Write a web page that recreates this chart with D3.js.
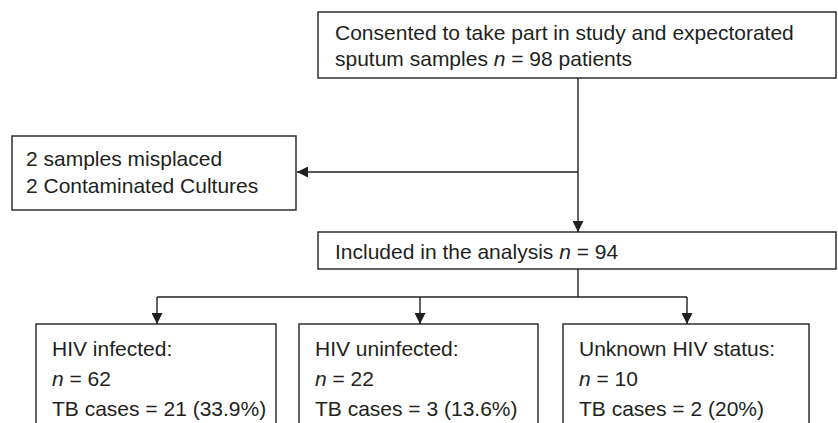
<!DOCTYPE html>
<html>
<head>
<meta charset="utf-8">
<script src="https://cdn.jsdelivr.net/npm/d3@7"></script>
<style>
    body { margin: 0; background: #fff; }
    svg { display: block; }
    .box { fill: #fff; stroke: #231f20; stroke-width: 1.4; }
    .link { fill: none; stroke: #231f20; stroke-width: 1.4; }
    text { font-family: "Liberation Sans", Arial, sans-serif; font-size: 21px; fill: #231f20; }
</style>
</head>
<body>
<script>
// text of each box, "_n_" marks the italic n
var topLines = ["Consented to take part in study and expectorated", "sputum samples _n_ = 98 patients"];
var excludedLines = ["2 samples misplaced", "2 Contaminated Cultures"];
var includedLines = ["Included in the analysis _n_ = 94"];
var groupNames = ["HIV infected:", "HIV uninfected:", "Unknown HIV status:"];
var groupN = [62, 22, 10];
var groupTB = ["21 (33.9%)", "3 (13.6%)", "2 (20%)"];

var W = 838, H = 423;
var svg = d3.select("body").append("svg").attr("width", W).attr("height", H);

var defs = svg.append("defs");
defs.append("marker")
    .attr("id", "arrow")
    .attr("viewBox", "0 0 10 10")
    .attr("refX", 10).attr("refY", 5)
    .attr("markerWidth", 11).attr("markerHeight", 11)
    .attr("markerUnits", "userSpaceOnUse")
    .attr("orient", "auto")
    .append("path").attr("d", "M0,0 L10,5 L0,10 Z").attr("fill", "#231f20");

// layout
var nodes = [
    { id: "top", x0: 318, x1: 836, y0: 12, y1: 78, lines: topLines, tx: 335, ty: 40, dy: 26 },
    { id: "excl", x0: 12, x1: 296, y0: 136, y1: 210, lines: excludedLines, tx: 26, ty: 166, dy: 27 },
    { id: "incl", x0: 318, x1: 836, y0: 232, y1: 269, lines: includedLines, tx: 335, ty: 259, dy: 27 }
];
var gx = [[36, 276], [299, 538], [563, 809]];
groupNames.forEach(function (g, i) {
    nodes.push({
        id: "g" + i, x0: gx[i][0], x1: gx[i][1], y0: 324, y1: 440,
        lines: [g, "_n_ = " + groupN[i], "TB cases = " + groupTB[i]],
        tx: gx[i][0] + 16, ty: 356, dy: 30
    });
});

var mainX = 578;
var linkData = [
    { d: d3.line()([[mainX, 78], [mainX, 232]]), arrow: true },
    { d: d3.line()([[mainX, 172], [297, 172]]), arrow: true },
    { d: d3.line()([[mainX, 269], [mainX, 297]]), arrow: false },
    { d: d3.line()([[157, 297], [687, 297]]), arrow: false }
];
[157, 420, 687].forEach(function (x) {
    linkData.push({ d: d3.line()([[x, 297], [x, 324]]), arrow: true });
});

svg.selectAll("path.link").data(linkData).enter().append("path")
    .attr("class", "link")
    .attr("d", function (d) { return d.d; })
    .attr("marker-end", function (d) { return d.arrow ? "url(#arrow)" : null; });

var g = svg.selectAll("g.node").data(nodes).enter().append("g").attr("class", "node");
g.append("rect").attr("class", "box")
    .attr("x", function (d) { return d.x0; })
    .attr("y", function (d) { return d.y0; })
    .attr("width", function (d) { return d.x1 - d.x0; })
    .attr("height", function (d) { return d.y1 - d.y0; });

g.each(function (d) {
    var sel = d3.select(this);
    d.lines.forEach(function (line, i) {
        var t = sel.append("text").attr("x", d.tx).attr("y", d.ty + i * d.dy);
        line.split(/(_n_)/).forEach(function (part) {
            if (part === "") return;
            if (part === "_n_") t.append("tspan").style("font-style", "italic").text("n");
            else t.append("tspan").text(part);
        });
    });
});
</script>
</body>
</html>
